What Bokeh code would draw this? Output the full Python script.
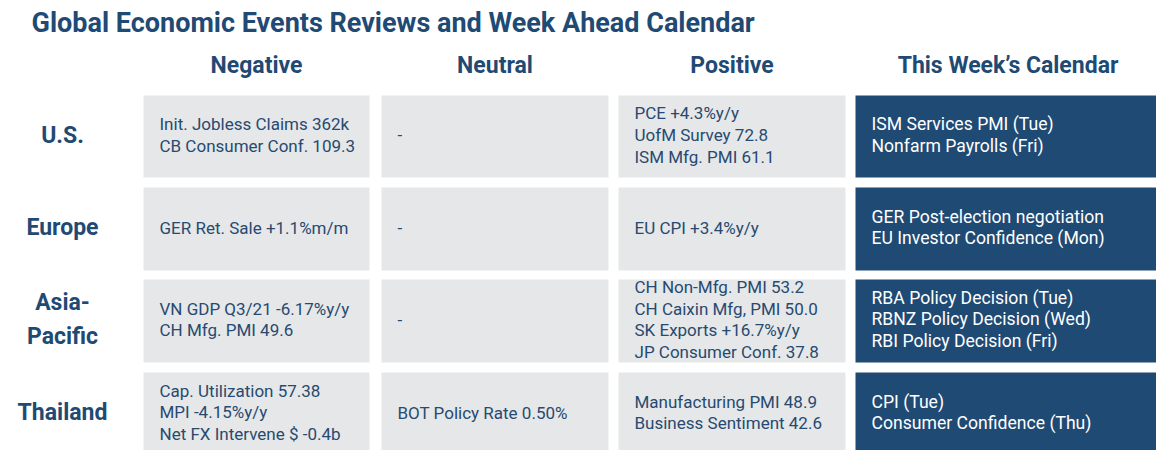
from bokeh.plotting import figure
from bokeh.models import Range1d, ColumnDataSource
from bokeh.core.properties import value
from bokeh.embed import file_html
from bokeh.resources import INLINE

title = "Global Economic Events Reviews and Week Ahead Calendar"
regions = ["U.S.", "Europe", "Asia-\nPacific", "Thailand"]
columns = ["Negative", "Neutral", "Positive", "This Week\u2019s Calendar"]
negative = [
    "Init. Jobless Claims 362k\nCB Consumer Conf. 109.3",
    "GER Ret. Sale +1.1%m/m",
    "VN GDP Q3/21 -6.17%y/y\nCH Mfg. PMI 49.6",
    "Cap. Utilization 57.38\nMPI -4.15%y/y\nNet FX Intervene $ -0.4b",
]
neutral = ["-", "-", "-", "BOT Policy Rate 0.50%"]
positive = [
    "PCE +4.3%y/y\nUofM Survey 72.8\nISM Mfg. PMI 61.1",
    "EU CPI +3.4%y/y",
    "CH Non-Mfg. PMI 53.2\nCH Caixin Mfg, PMI 50.0\nSK Exports +16.7%y/y\nJP Consumer Conf. 37.8",
    "Manufacturing PMI 48.9\nBusiness Sentiment 42.6",
]
calendar = [
    "ISM Services PMI (Tue)\nNonfarm Payrolls (Fri)",
    "GER Post-election negotiation\nEU Investor Confidence (Mon)",
    "RBA Policy Decision (Tue)\nRBNZ Policy Decision (Wed)\nRBI Policy Decision (Fri)",
    "CPI (Tue)\nConsumer Confidence (Thu)",
]

NAVY = "#1f4a74"
GRAY = "#e6e7e8"
TEXT = "#274a70"
FONT = "Roboto"

# layout (page pixel coordinates)
col_left = [143, 381, 618, 855]
col_right = [369, 608, 845, 1160]
row_top = [95, 187, 279, 372]
row_bottom = [177, 270, 362, 455]

p = figure(width=1156, height=450, output_backend="svg", toolbar_location=None,
           x_range=Range1d(0, 1156), y_range=Range1d(450, 0),
           min_border=0, outline_line_color=None)
p.axis.visible = False
p.grid.visible = False
p.background_fill_color = "white"
p.border_fill_color = "white"

table = [negative, neutral, positive, calendar]
L, R, T, B, C, X, Y, S, TC, FS = [], [], [], [], [], [], [], [], [], []
for ci, col in enumerate(table):
    for ri, txt in enumerate(col):
        L.append(col_left[ci]); R.append(col_right[ci])
        T.append(row_top[ri]); B.append(row_bottom[ri])
        C.append(NAVY if ci == 3 else GRAY)
        X.append(col_left[ci] + 16)
        Y.append((row_top[ri] + row_bottom[ri]) / 2 - 1.5)
        S.append(txt)
        TC.append("white" if ci == 3 else TEXT)
        FS.append("17.6px" if ci == 3 else "17px")
src = ColumnDataSource(dict(left=L, right=R, top=T, bottom=B, color=C, x=X, y=Y,
                            text=S, tc=TC, fs=FS))
p.quad(left="left", right="right", top="top", bottom="bottom", fill_color="color",
       line_color=None, source=src)
p.text(x="x", y="y", text="text", text_color="tc", source=src, text_font=value(FONT),
       text_font_size="fs", text_baseline="middle", text_align="left", text_line_height=1.08)

# column headers
p.text(x=[(a + b) / 2 for a, b in zip(col_left, col_right)], y=[65] * 4, text=columns,
       text_color=NAVY, text_font=value(FONT), text_font_style="bold", text_font_size="23px",
       text_align="center", text_baseline="middle")

# row labels
p.text(x=[62] * 4, y=[(a + b) / 2 - 1.5 for a, b in zip(row_top, row_bottom)], text=regions,
       text_color=NAVY, text_font=value(FONT), text_font_style="bold", text_font_size="23px",
       text_align="center", text_baseline="middle", text_line_height=1.24)

# title
p.text(x=[31], y=[22], text=[title], text_color=NAVY, text_font=value(FONT),
       text_font_style="bold", text_font_size="27px", text_align="left", text_baseline="middle")

open("out.html", "w").write(file_html(p, INLINE))
